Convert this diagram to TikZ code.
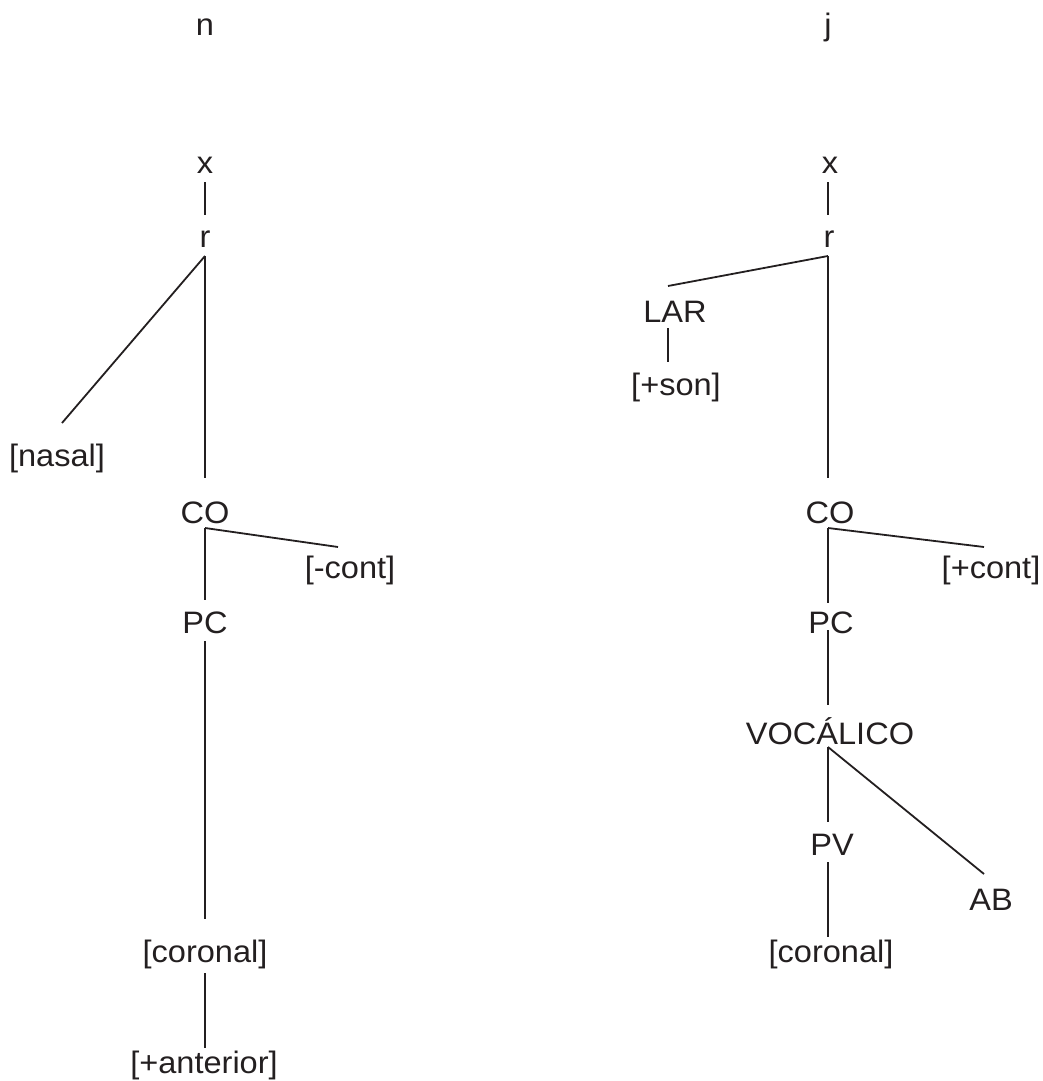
\documentclass[tikz,border=0pt]{standalone}
\usepackage{fontspec}
\setmainfont[FakeStretch=1.05]{Liberation Sans}
\definecolor{ink}{HTML}{231F20}
\begin{document}
\begin{tikzpicture}[x=1pt,y=-1pt,
  lbl/.style={anchor=base,inner sep=0pt,text=ink,font=\fontsize{31}{37}\selectfont},
  branch/.style={draw=ink,line width=1.8pt}]
\useasboundingbox (0,0) rectangle (1043,1081);
% ---------- left tree (n) ----------
\node[lbl] (nL) at (205,36) {n};
\node[lbl] (xL) at (205,173) {x};
\node[lbl] (rL) at (205,247) {r};
\node[lbl] (nasal) at (57,466) {[nasal]};
\node[lbl] (coL) at (205,523) {CO};
\node[lbl] (mcont) at (350,578) {[-cont]};
\node[lbl] (pcL) at (205,633) {PC};
\node[lbl] (corL) at (205,962) {[coronal]};
\node[lbl] (ant) at (204,1073) {[+anterior]};
\coordinate (xL-b) at (205,182);
\coordinate (rL-t) at (205,215);
\coordinate (rL-b) at (205,256);
\coordinate (nasal-t) at (62,423);
\coordinate (coL-t) at (205,478);
\coordinate (coL-b) at (205,528);
\coordinate (mcont-t) at (338,547);
\coordinate (pcL-t) at (205,600);
\coordinate (pcL-b) at (205,641);
\coordinate (corL-t) at (205,919);
\coordinate (corL-b) at (205,973);
\coordinate (ant-t) at (205,1048);
\draw[branch] (xL-b) -- (rL-t);
\draw[branch] (rL-b) -- (nasal-t);
\draw[branch] (rL-b) -- (coL-t);
\draw[branch] (coL-b) -- (pcL-t);
\draw[branch] (coL-b) -- (mcont-t);
\draw[branch] (pcL-b) -- (corL-t);
\draw[branch] (corL-b) -- (ant-t);
% ---------- right tree (j) ----------
\node[lbl] (jR) at (828,36) {j};
\node[lbl] (xR) at (830,173) {x};
\node[lbl] (rR) at (829,247) {r};
\node[lbl] (lar) at (675,322) {LAR};
\node[lbl] (son) at (676,395) {[+son]};
\node[lbl] (coR) at (830,523) {CO};
\node[lbl] (pcont) at (991,578) {[+cont]};
\node[lbl] (pcR) at (831,633) {PC};
\node[lbl] (voc) at (830,744) {VOCÁLICO};
\node[lbl] (pv) at (832,855) {PV};
\node[lbl] (ab) at (991,910) {AB};
\node[lbl] (corR) at (831,962) {[coronal]};
\coordinate (xR-b) at (828,182);
\coordinate (rR-t) at (828,215);
\coordinate (rR-b) at (828,256);
\coordinate (lar-t) at (668,286);
\coordinate (lar-b) at (668,328);
\coordinate (son-t) at (668,362);
\coordinate (coR-t) at (828,478);
\coordinate (coR-b) at (828,528);
\coordinate (pcont-t) at (984,547);
\coordinate (pcR-t) at (828,603);
\coordinate (pcR-b) at (828,630);
\coordinate (voc-t) at (828,705);
\coordinate (voc-b) at (828,747);
\coordinate (pv-t) at (828,822);
\coordinate (ab-t) at (984,874);
\coordinate (pv-b) at (828,862);
\coordinate (corR-t) at (828,937);
\draw[branch] (xR-b) -- (rR-t);
\draw[branch] (rR-b) -- (lar-t);
\draw[branch] (rR-b) -- (coR-t);
\draw[branch] (lar-b) -- (son-t);
\draw[branch] (coR-b) -- (pcR-t);
\draw[branch] (coR-b) -- (pcont-t);
\draw[branch] (pcR-b) -- (voc-t);
\draw[branch] (voc-b) -- (pv-t);
\draw[branch] (voc-b) -- (ab-t);
\draw[branch] (pv-b) -- (corR-t);
\end{tikzpicture}
\end{document}
